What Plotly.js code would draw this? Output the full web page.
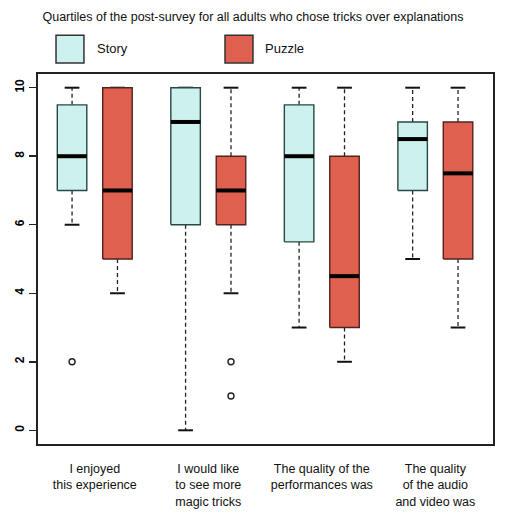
<!DOCTYPE html>
<html>
<head>
<meta charset="utf-8">
<script src="https://cdn.plot.ly/plotly-3.0.1.min.js"></script>
<style>
  html, body { margin: 0; padding: 0; background: #fff; }
  #chart { width: 506px; height: 516px; }
</style>
</head>
<body>
<div id="chart"></div>
<script>
// Survey statements (x axis groups)
const categories = [
  "I enjoyed<br>this experience",
  "I would like<br>to see more<br>magic tricks",
  "The quality of the<br>performances was",
  "The quality<br>of the audio<br>and video was"
];

// Story condition: five-number summaries per statement
const storyLow    = [6, 0, 3, 5];
const storyQ1     = [7, 6, 5.5, 7];
const storyMedian = [8, 9, 8, 8.5];
const storyQ3     = [9.5, 10, 9.5, 9];
const storyHigh   = [10, 10, 10, 10];
const storyOutliers = [[2], [], [], []];

// Puzzle condition: five-number summaries per statement
const puzzleLow    = [4, 4, 2, 3];
const puzzleQ1     = [5, 6, 3, 5];
const puzzleMedian = [7, 7, 4.5, 7.5];
const puzzleQ3     = [10, 8, 8, 9];
const puzzleHigh   = [10, 10, 10, 10];
const puzzleOutliers = [[], [2, 1], [], []];

const yTicks = [0, 2, 4, 6, 8, 10];

// Box slots: two boxes per statement, groups separated by a wider gap
const groupCenters = categories.map((_, i) => 1.5 + i * 2.5);
const storyPos  = groupCenters.map(c => c - 0.5);
const puzzlePos = groupCenters.map(c => c + 0.5);

const HALF = 0.325;      // half box width
const CAP = HALF / 2;    // half staple width

const storyFill = "#cdf1ee", storyEdge = "#284845";
const puzzleFill = "#e0604f", puzzleEdge = "#52231e";

function boxTraces(name, pos, low, q1, med, q3, high, outliers, fill, edge) {
  const traces = [];
  // dashed whiskers and solid staples
  const wx = [], wy = [];
  const cx = [], cy = [];
  pos.forEach((p, i) => {
    wx.push(p, p, null, p, p, null);
    wy.push(q3[i], high[i], null, q1[i], low[i], null);
    cx.push(p - CAP, p + CAP, null, p - CAP, p + CAP, null);
    cy.push(high[i], high[i], null, low[i], low[i], null);
  });
  traces.push({
    type: "scatter", mode: "lines", x: wx, y: wy, showlegend: false,
    hoverinfo: "skip", line: { color: "#222", width: 1.3, dash: "4px,3px" }
  });
  traces.push({
    type: "scatter", mode: "lines", x: cx, y: cy, showlegend: false,
    hoverinfo: "skip", line: { color: "#111", width: 2 }
  });
  // boxes
  pos.forEach((p, i) => {
    traces.push({
      type: "scatter", mode: "lines", name: name, showlegend: false,
      x: [p - HALF, p + HALF, p + HALF, p - HALF, p - HALF],
      y: [q1[i], q1[i], q3[i], q3[i], q1[i]],
      fill: "toself", fillcolor: fill,
      line: { color: edge, width: 1.4 }, hoverinfo: "skip"
    });
  });
  // medians
  const mx = [], my = [];
  pos.forEach((p, i) => { mx.push(p - HALF, p + HALF, null); my.push(med[i], med[i], null); });
  traces.push({
    type: "scatter", mode: "lines", x: mx, y: my, showlegend: false,
    hoverinfo: "skip", line: { color: "#000", width: 4 }
  });
  // outliers
  const ox = [], oy = [];
  pos.forEach((p, i) => outliers[i].forEach(v => { ox.push(p); oy.push(v); }));
  traces.push({
    type: "scatter", mode: "markers", x: ox, y: oy, showlegend: false,
    hoverinfo: "skip",
    marker: { symbol: "circle-open", size: 6, color: "#222", line: { width: 1.4 } }
  });
  return traces;
}

const data = [].concat(
  boxTraces("Story", storyPos, storyLow, storyQ1, storyMedian, storyQ3, storyHigh, storyOutliers, storyFill, storyEdge),
  boxTraces("Puzzle", puzzlePos, puzzleLow, puzzleQ1, puzzleMedian, puzzleQ3, puzzleHigh, puzzleOutliers, puzzleFill, puzzleEdge)
);

const font = { family: "Liberation Sans, Arial, Helvetica, sans-serif", color: "#111" };

const layout = {
  width: 506, height: 516,
  margin: { l: 38, r: 13, t: 74, b: 72 },
  paper_bgcolor: "#fff", plot_bgcolor: "#fff",
  font: Object.assign({ size: 12.5 }, font),
  showlegend: false,
  title: {
    text: "Quartiles of the post-survey for all adults who chose tricks over explanations",
    x: 0.5, xanchor: "center", y: 0.967, yanchor: "middle",
    font: Object.assign({ size: 12.5 }, font)
  },
  xaxis: {
    range: [0.25, 10.27], showgrid: false, zeroline: false,
    tickvals: groupCenters, ticktext: categories, ticks: "",
    ticklabelstandoff: 12,
    tickfont: Object.assign({ size: 12.5 }, font),
    showline: true, linecolor: "#222", linewidth: 2, mirror: true
  },
  yaxis: {
    range: [-0.4, 10.4], showgrid: false, zeroline: false,
    tickvals: yTicks, ticktext: yTicks.map(String),
    ticks: "outside", ticklen: 7, tickwidth: 1.5, tickcolor: "#222",
    tickangle: -90,
    tickfont: { size: 12, family: font.family, color: "#000", weight: "bold" },
    showline: true, linecolor: "#222", linewidth: 2, mirror: true
  },
  shapes: [
    { type: "rect", xref: "paper", yref: "paper", x0: 0.0396, x1: 0.101, y0: 1.030, y1: 1.105,
      fillcolor: storyFill, line: { color: "#333", width: 1.5 } },
    { type: "rect", xref: "paper", yref: "paper", x0: 0.411, x1: 0.4725, y0: 1.030, y1: 1.105,
      fillcolor: puzzleFill, line: { color: "#333", width: 1.5 } }
  ],
  annotations: [
    { text: "Story", xref: "paper", yref: "paper", x: 0.125, y: 1.0676,
      xanchor: "left", yanchor: "middle", showarrow: false, font: Object.assign({ size: 13 }, font) },
    { text: "Puzzle", xref: "paper", yref: "paper", x: 0.4945, y: 1.0676,
      xanchor: "left", yanchor: "middle", showarrow: false, font: Object.assign({ size: 13 }, font) }
  ]
};

Plotly.newPlot("chart", data, layout, { displayModeBar: false, staticPlot: true });
</script>
</body>
</html>
